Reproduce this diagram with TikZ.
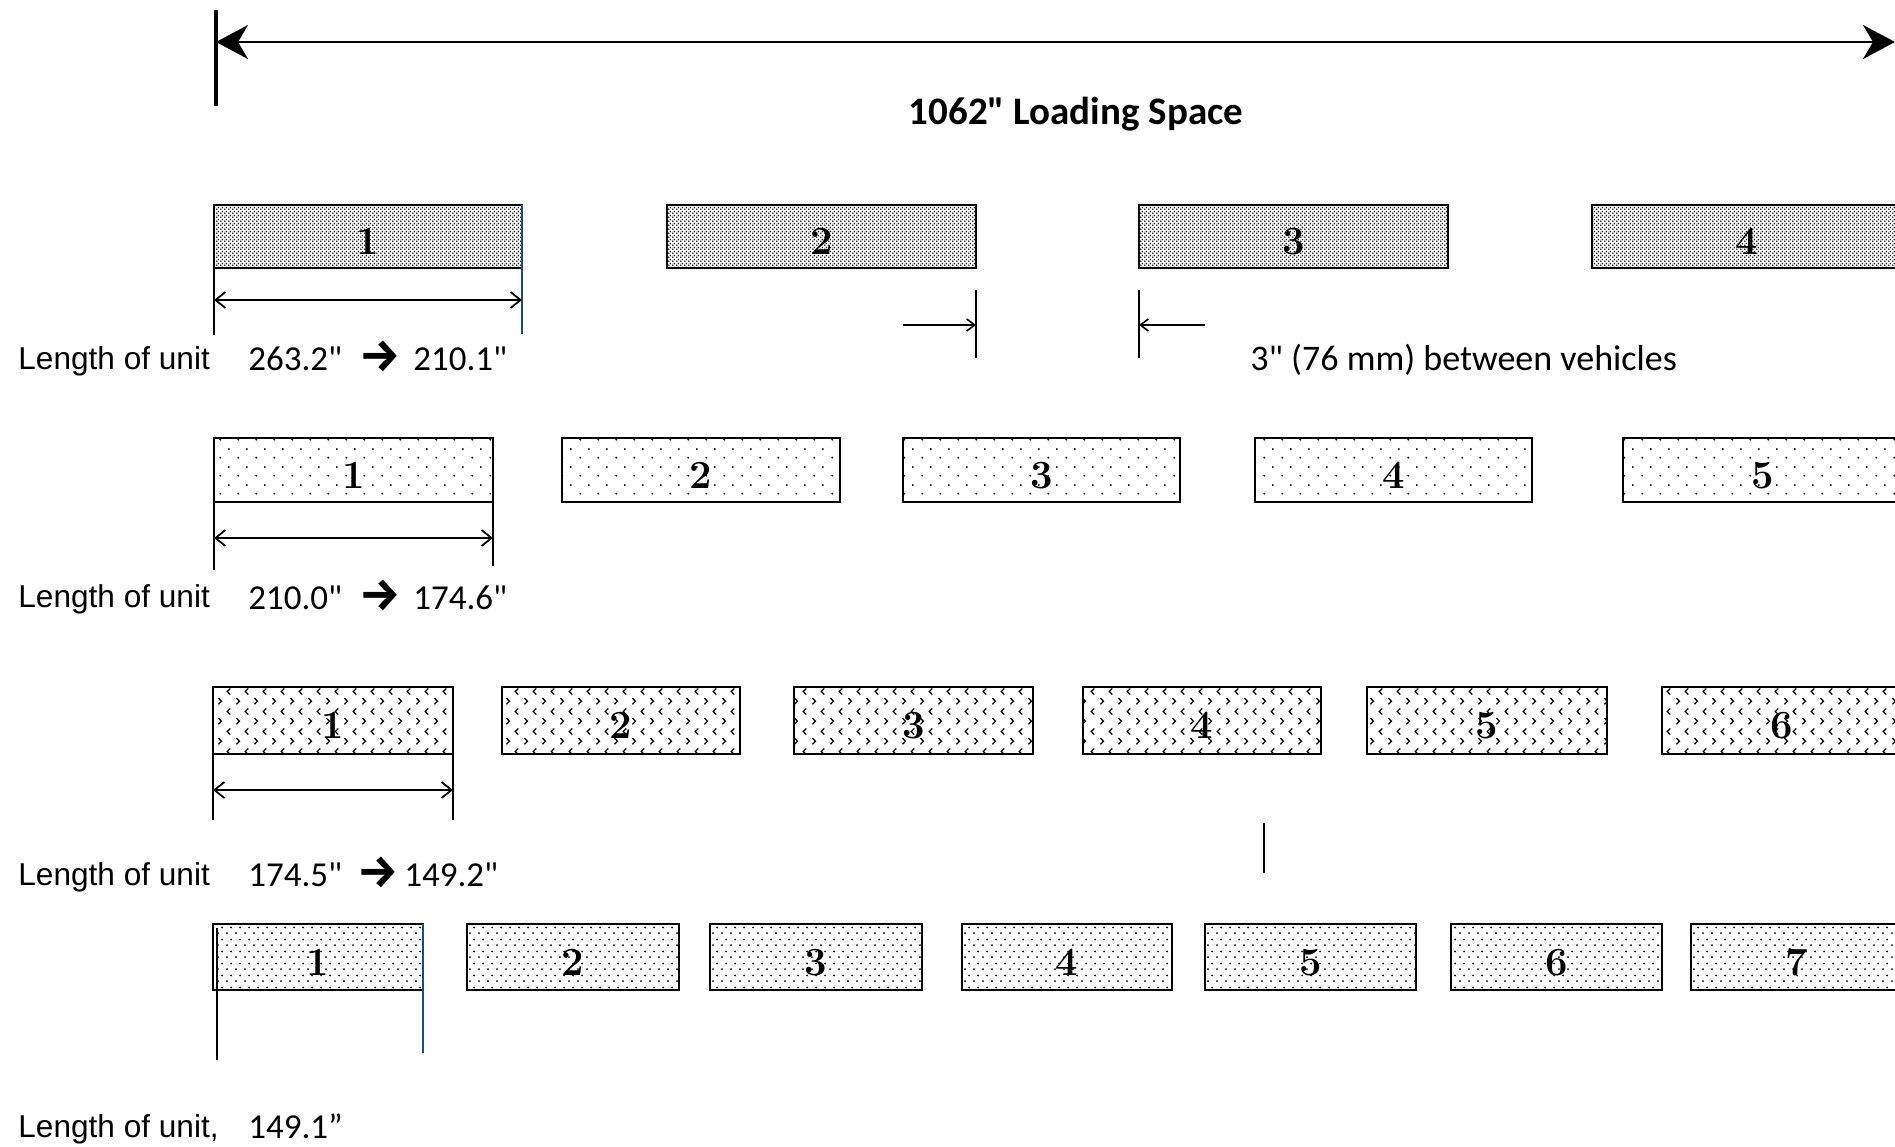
\documentclass[tikz,border=0pt]{standalone}
\usepackage{fontspec}
\usetikzlibrary{arrows.meta,patterns,calc}
\newfontfamily\arialf{Liberation Sans}
\newfontfamily\calf{Carlito}
\newfontfamily\arrf{Fira Sans}
\definecolor{dimblue}{RGB}{25,75,140}

\pgfdeclarepatternformonly{denseDots}{\pgfpointorigin}{\pgfpoint{2pt}{2pt}}{\pgfpoint{2pt}{2pt}}{%
  \pgfpathcircle{\pgfpoint{0.5pt}{0.5pt}}{0.52pt}%
  \pgfpathcircle{\pgfpoint{1.5pt}{1.5pt}}{0.52pt}%
  \pgfusepath{fill}}
\pgfdeclarepatternformonly{sparseDots}{\pgfpointorigin}{\pgfpoint{9pt}{9pt}}{\pgfpoint{9pt}{9pt}}{%
  \pgfpathcircle{\pgfpoint{2.25pt}{2.25pt}}{0.55pt}%
  \pgfpathcircle{\pgfpoint{6.75pt}{6.75pt}}{0.55pt}%
  \pgfusepath{fill}}
\pgfdeclarepatternformonly{chevrons}{\pgfpointorigin}{\pgfpoint{9pt}{10pt}}{\pgfpoint{9pt}{10pt}}{%
  \pgfsetlinewidth{0.65pt}%
  \pgfpathmoveto{\pgfpoint{1.3pt}{4.1pt}}\pgfpathlineto{\pgfpoint{2.9pt}{2.5pt}}\pgfpathlineto{\pgfpoint{1.3pt}{0.9pt}}%
  \pgfpathmoveto{\pgfpoint{7.5pt}{9.1pt}}\pgfpathlineto{\pgfpoint{5.9pt}{7.5pt}}\pgfpathlineto{\pgfpoint{7.5pt}{5.9pt}}%
  \pgfusepath{stroke}}
\pgfdeclarepatternformonly{midDots}{\pgfpointorigin}{\pgfpoint{4.5pt}{5.8pt}}{\pgfpoint{4.5pt}{5.8pt}}{%
  \pgfpathcircle{\pgfpoint{1.125pt}{1.45pt}}{0.55pt}%
  \pgfpathcircle{\pgfpoint{3.375pt}{4.35pt}}{0.55pt}%
  \pgfusepath{fill}}

\newcommand\unitbox[7]{% name, style, x1, x2, ytop, ybot, label
  \node[#2, minimum width={(#4-#3)*0.5pt}, minimum height={(#6-#5)*0.5pt}] (#1) at ({(#3+#4)/2},{(#5+#6)/2}) {\raisebox{-2.5pt}[\height][0pt]{#7}};}

\tikzset{
  unitbase/.style={draw, line width=1pt, inner sep=0pt, outer sep=0pt,
    font=\fontsize{20}{20}\selectfont\bfseries},
  boxA/.style={unitbase, line width=1.2pt, pattern=denseDots},
  boxB/.style={unitbase, pattern=sparseDots},
  boxC/.style={unitbase, pattern=chevrons},
  boxD/.style={unitbase, pattern=midDots},
  lenlbl/.style={anchor=base west, inner sep=0pt, font=\arialf\fontsize{15.8}{15.8}\selectfont},
  numlbl/.style={anchor=base west, inner sep=0pt, font=\calf\fontsize{17.5}{17.5}\selectfont},
  arrlbl/.style={anchor=base west, inner sep=0pt, font=\arrf\bfseries\fontsize{23}{23}\selectfont},
  gaplbl/.style={anchor=base west, inner sep=0pt, font=\calf\fontsize{18}{18}\selectfont},
  titlelbl/.style={anchor=base, inner sep=0pt, font=\calf\bfseries\fontsize{19.5}{19.5}\selectfont},
  dimline/.style={line width=1pt},
  dimarrow/.style={line width=0.9pt, {Straight Barb[length=5pt,width=8pt]}-{Straight Barb[length=5pt,width=8pt]}},
  gaparrow/.style={line width=0.8pt, -{Straight Barb[length=4pt,width=6pt]}},
  thinline/.style={line width=0.6pt},
  blueline/.style={line width=1.3pt, dimblue},
  toparrow/.style={line width=1.4pt, {Stealth[length=16pt,width=17pt,inset=5pt]}-{Stealth[length=16pt,width=17pt,inset=5pt]}}
}

\begin{document}
\begin{tikzpicture}[x=0.5pt,y=-0.5pt]
\useasboundingbox (0,0) rectangle (1895,1146);
\fill[white] (0,0) rectangle (1895,1146);
\clip (0,0) rectangle (1895,1146);

% overall loading space
\coordinate (ls) at (216,42);
\coordinate (le) at (1895,42);
\draw[line width=2pt] (216,10) -- (216,106);
\draw[toparrow] (ls) -- (le);
\node[titlelbl] (title) at (1076,124) {1062" Loading Space};

% row 1
\unitbox{b11}{boxA}{214}{522}{205}{268}{1}
\unitbox{b12}{boxA}{667}{976}{205}{268}{2}
\unitbox{b13}{boxA}{1139}{1448}{205}{268}{3}
\unitbox{b14}{boxA}{1592}{1902}{205}{268}{4}
\draw[dimline] (b11.south west) -- ++(0,67);
\draw[blueline] (b11.north east) -- ++(0,129);
\draw[dimarrow] ($(b11.south west)+(0,32)$) -- ($(b11.south east)+(0,32)$);
\draw[thinline] (b12.south east |- 0,290) -- (b12.south east |- 0,358);
\draw[thinline] (b13.south west |- 0,290) -- (b13.south west |- 0,358);
\coordinate (g1) at (903,325);
\coordinate (g2) at (1205,325);
\draw[gaparrow] (g1) -- (b12.east |- g1);
\draw[gaparrow] (g2) -- (b13.west |- g2);
\node[lenlbl] (l1) at (18,369) {Length of unit};
\node[numlbl] (n1a) at (248,370) {263.2"};
\node[arrlbl] (a1) at (359,371) {→};
\node[numlbl] (n1b) at (413,370) {210.1"};
\node[gaplbl] (gap) at (1250,370) {3" (76 mm) between vehicles};

% row 2
\unitbox{b21}{boxB}{214}{493}{438}{502}{1}
\unitbox{b22}{boxB}{562}{840}{438}{502}{2}
\unitbox{b23}{boxB}{903}{1180}{438}{502}{3}
\unitbox{b24}{boxB}{1255}{1532}{438}{502}{4}
\unitbox{b25}{boxB}{1623}{1902}{438}{502}{5}
\draw[dimline] (b21.south west) -- ++(0,68);
\draw[dimline] (b21.south east) -- ++(0,64);
\draw[dimarrow] ($(b21.south west)+(0,36)$) -- ($(b21.south east)+(0,36)$);
\node[lenlbl] (l2) at (18,607) {Length of unit};
\node[numlbl] (n2a) at (248,609) {210.0"};
\node[arrlbl] (a2) at (359,610) {→};
\node[numlbl] (n2b) at (413,609) {174.6"};

% row 3
\unitbox{b31}{boxC}{213}{453}{687}{754}{1}
\unitbox{b32}{boxC}{502}{740}{687}{754}{2}
\unitbox{b33}{boxC}{794}{1033}{687}{754}{3}
\unitbox{b34}{boxC}{1083}{1321}{687}{754}{4}
\unitbox{b35}{boxC}{1367}{1607}{687}{754}{5}
\unitbox{b36}{boxC}{1662}{1902}{687}{754}{6}
\draw[dimline] (b31.south west) -- ++(0,66);
\draw[dimline] (b31.south east) -- ++(0,66);
\draw[dimarrow] ($(b31.south west)+(0,36)$) -- ($(b31.south east)+(0,36)$);
\draw[thinline] (1264,823) -- (1264,873);
\node[lenlbl] (l3) at (18,885) {Length of unit};
\node[numlbl] (n3a) at (248,886) {174.5"};
\node[arrlbl] (a3) at (357,887) {→};
\node[numlbl] (n3b) at (404,886) {149.2"};

% row 4
\unitbox{b41}{boxD}{213}{423}{924}{990}{1}
\unitbox{b42}{boxD}{467}{679}{924}{990}{2}
\unitbox{b43}{boxD}{710}{922}{924}{990}{3}
\unitbox{b44}{boxD}{962}{1172}{924}{990}{4}
\unitbox{b45}{boxD}{1205}{1416}{924}{990}{5}
\unitbox{b46}{boxD}{1451}{1662}{924}{990}{6}
\unitbox{b47}{boxD}{1691}{1902}{924}{990}{7}
\draw[dimline] ($(b41.north west)+(4,4)$) -- ($(b41.north west)+(4,136)$);
\draw[blueline] (b41.north east) -- ++(0,129);
\node[lenlbl] (l4) at (18,1137) {Length of unit,};
\node[numlbl] (n4) at (248,1138) {149.1”};
\end{tikzpicture}
\end{document}
